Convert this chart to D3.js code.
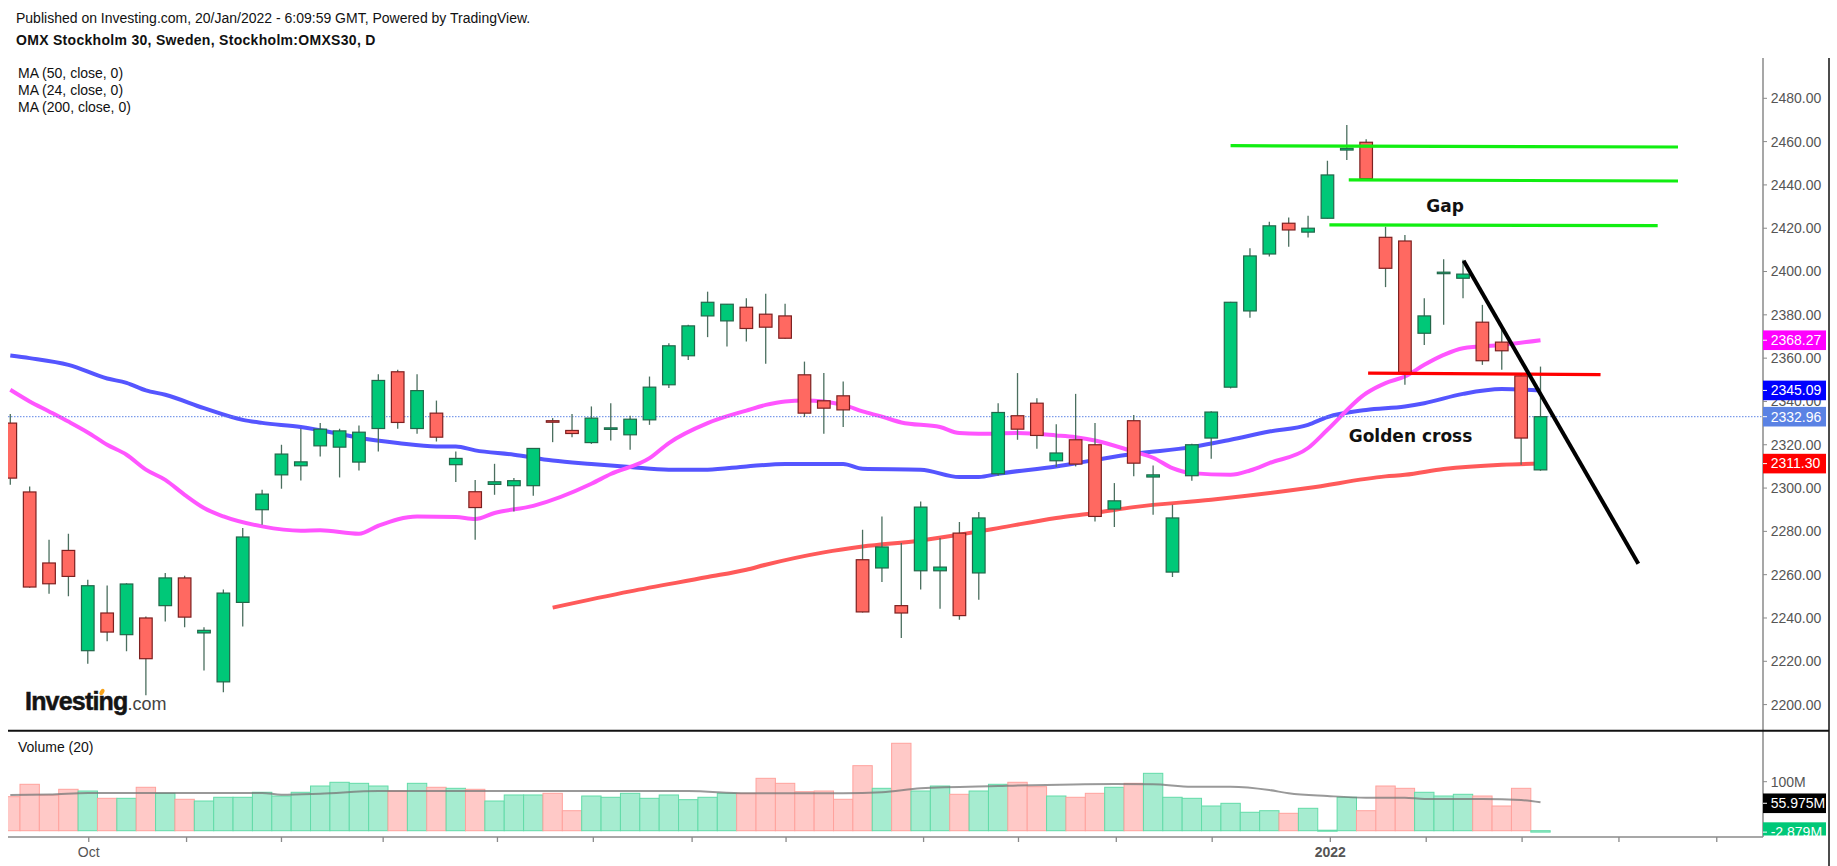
<!DOCTYPE html>
<html>
<head>
<meta charset="utf-8">
<script src="https://cdn.jsdelivr.net/npm/d3@7"></script>
<style>
body { margin: 0; background: #fff; }
svg { display: block; font-family: "Liberation Sans", Arial, sans-serif; }
</style>
</head>
<body>
<svg id="chart" width="1837" height="866"></svg>
<script>
// daily OHLC (index 0 = first visible session)
var opens  = [2330.0,2298.2,2265.4,2271.2,2224.9,2242.3,2232.3,2240.0,2245.7,2258.5,
              2233.1,2210.5,2247.2,2290.0,2306.1,2310.3,2319.5,2318.9,2312.0,2327.5,
              2353.7,2327.5,2334.6,2310.8,2298.3,2301.7,2301.1,2301.1,2331.1,2326.6,
              2321.0,2327.5,2324.6,2331.5,2347.7,2361.1,2379.5,2377.2,2383.5,2380.3,
              2379.5,2352.3,2340.3,2342.6,2266.9,2263.1,2245.7,2261.8,2261.8,2279.2,
              2260.8,2306.6,2333.4,2339.2,2312.6,2322.3,2320.0,2290.3,2331.1,2305.1,
              2261.2,2305.7,2323.1,2346.6,2381.8,2408.1,2422.3,2418.2,2424.6,2456.1,
              2459.7,2415.8,2414.1,2371.5,2399.5,2396.9,2376.6,2367.4,2351.8,2308.4];
var highs  = [2334.2,2300.7,2276.1,2278.9,2257.7,2255.0,2256.0,2240.7,2260.8,2259.5,
              2235.7,2253.1,2281.5,2299.2,2320.0,2327.4,2330.0,2327.4,2328.9,2352.6,
              2354.6,2352.6,2340.4,2316.9,2303.7,2311.2,2304.6,2318.5,2332.3,2334.2,
              2337.7,2339.2,2333.4,2351.5,2366.9,2375.4,2390.7,2385.0,2387.7,2389.7,
              2385.1,2358.4,2353.1,2349.2,2280.8,2286.9,2274.6,2293.8,2276.9,2284.3,
              2288.9,2339.2,2353.1,2341.5,2329.5,2343.5,2330.0,2302.3,2333.8,2310.4,
              2292.3,2320.5,2335.5,2386.0,2410.8,2423.0,2424.9,2425.8,2451.2,2467.7,
              2461.1,2420.7,2416.9,2387.7,2405.7,2405.4,2384.6,2373.4,2352.5,2356.1];
var lows   = [2301.5,2254.0,2251.2,2250.0,2218.9,2229.2,2224.6,2204.3,2238.4,2235.7,
              2215.8,2205.7,2236.1,2283.1,2299.7,2303.5,2314.6,2304.9,2308.1,2316.9,
              2327.4,2325.1,2321.5,2302.8,2276.1,2296.9,2289.2,2296.4,2321.2,2323.5,
              2320.4,2322.0,2317.7,2329.2,2346.2,2359.2,2369.7,2365.4,2367.7,2357.4,
              2369.0,2332.8,2325.1,2328.2,2242.5,2256.6,2230.8,2253.1,2244.3,2239.2,
              2248.4,2305.7,2322.3,2318.1,2309.7,2310.0,2284.6,2282.0,2305.4,2287.7,
              2258.9,2303.4,2313.5,2346.0,2378.7,2406.9,2411.5,2415.7,2424.5,2451.5,
              2442.7,2392.8,2347.7,2366.1,2375.4,2387.7,2356.9,2354.6,2310.8,2308.0];
var closes = [2304.6,2254.3,2255.8,2259.2,2254.9,2233.5,2255.7,2221.2,2258.5,2240.4,
              2234.3,2251.5,2277.4,2297.2,2315.7,2312.1,2327.2,2326.4,2325.8,2349.7,
              2330.3,2345.0,2323.5,2313.7,2291.0,2302.9,2303.4,2318.3,2330.5,2325.2,
              2332.3,2327.8,2331.8,2346.6,2365.7,2374.9,2385.8,2384.9,2373.7,2374.3,
              2369.2,2334.6,2336.9,2336.1,2242.8,2272.8,2242.3,2291.2,2263.5,2241.1,
              2286.2,2334.9,2327.2,2324.3,2316.2,2311.1,2286.9,2294.1,2311.5,2306.1,
              2286.2,2320.0,2335.1,2385.8,2407.2,2421.1,2419.2,2420.0,2444.6,2456.9,
              2442.9,2401.5,2353.4,2379.5,2399.7,2398.8,2358.8,2363.4,2323.1,2332.96];

// volume in millions
var volumes = [69.4,94.7,72.9,84.5,81.0,66.1,66.1,88.6,76.3,64.1,
               60.6,68.2,68.2,78.4,70.8,78.4,91.2,98.8,96.7,91.2,
               81.0,96.7,88.6,86.5,84.5,60.6,72.9,72.9,76.3,40.8,
               70.8,68.2,76.3,66.1,72.9,63.3,68.2,76.3,76.3,106.9,
               96.7,79.6,81.0,64.1,132.7,86.5,178.4,81.0,91.2,74.3,
               81.0,94.7,98.8,89.8,70.8,68.2,76.3,88.6,96.7,117.1,
               68.2,66.1,50.4,55.9,37.6,40.8,35.5,45.7,1.0,68.2,
               40.8,91.2,86.5,78.4,70.8,74.3,70.8,50.4,86.5,-2.879];

// moving averages, [session index, value]
var ma50 = [[0,2361.2],[1,2360],[3,2356.9],[5,2350.6],[6,2348.6],[7,2345.1],[8,2343.1],[10,2336.9],
            [12,2331.5],[13,2330.1],[15,2328.2],[17,2325],[18,2323.2],[20,2320.8],[22,2319.2],[23,2319.2],
            [24,2317.4],[26,2315.4],[28,2312.7],[30,2311.1],[32,2309.7],[34,2308.5],[36,2308.5],[38,2310],
            [40,2311.1],[43,2311.1],[44,2308.9],[47,2308.5],[49,2305.1],[50,2305.1],[51,2306.6],[54,2310],
            [56,2313],[58,2315.8],[61,2318.9],[63,2322.3],[65,2326.1],[67,2329.2],[68,2332.8],[70,2336.1],
            [72,2337.7],[73,2339.2],[75,2343.5],[77,2345.7],[79,2345.09]];
var ma24 = [[0,2345.4],[1,2340],[2,2335.4],[3,2330.7],[4,2325.7],[5,2320],[6,2315.4],[7,2308.5],
            [8,2303.8],[9,2296.9],[10,2290.8],[11,2286.9],[13,2282.3],[15,2280.3],[16,2280.5],[18,2278.9],
            [19,2282.6],[21,2286.9],[23,2286.6],[24,2285.7],[25,2288.5],[27,2291.8],[30,2302],[31,2306.5],
            [33,2313.8],[34,2320.8],[36,2330],[38,2335.8],[39,2338.4],[40,2340],[41,2340.4],[43,2338.4],
            [44,2335.4],[45,2333],[46,2330.3],[48,2328.2],[49,2325.4],[50,2325.1],[52,2325.4],[54,2324.3],
            [55,2323.5],[56,2322],[58,2316.8],[59,2314],[60,2309.2],[61,2306.9],[63,2306.1],[64,2308.1],
            [65,2311.5],[67,2318.5],[68,2326.9],[70,2343.8],[71,2348.5],[72,2351.5],[73,2356.9],[74,2361.5],
            [75,2364.6],[77,2366.1],[79,2368.27]];
var ma200 = [[28,2244.8],[32,2252.3],[36,2258.9],[38,2262.3],[39,2264.6],[42,2270.3],[44,2273],[47,2275.8],
             [49,2278.5],[51,2281.5],[54,2286.2],[56,2288.5],[58,2291.2],[62,2294.6],[67,2300],[71,2305.4],
             [72,2306.1],[74,2308.8],[77,2310.8],[79,2311.3]];
var volMa = [[0,73],[2,73.7],[4,77],[13,77],[14,73.5],[16,75.6],[19,81],[30,81],[35,81],[38,76.3],
             [43,76.3],[45,78.4],[47,86.5],[51,91.2],[57,95.3],[59,94.7],[61,89.8],[63,89.8],[65,83],
             [66,76.3],[68,70.8],[70,67.5],[72,67.5],[73,64.7],[76,64.7],[78,62.6],[79,57.9]];

// axis ticks
var priceTicks = [2200,2220,2240,2260,2280,2300,2320,2340,2360,2380,2400,2420,2440,2460,2480];
var timeTicks = [4.05,9.1,14,19.25,25.15,30.1,35.2,40.05,47.15,52.05,57.1,62.05,68.15,73.1,78.05,83.05,88.1];
var timeLabels = {4.05: 'Oct', 68.15: '2022'};

// drawn annotations: [index, price] end points
var greenLines = [[[63,2458.1],[86.1,2457.5]],
                  [[69.1,2442.3],[86.1,2441.8]],
                  [[68.1,2421.5],[85.05,2421.2]]];
var redLine = [[70.1,2353.1],[82.1,2352.4]];
var trendLine = [[75.03,2405.0],[84.05,2265.1]];
var notes = [{text: 'Gap', i: 73.1, p: 2427.3},
             {text: 'Golden cross', i: 69.1, p: 2321.5}];

var svg = d3.select('#chart');
var W = 1837, H = 866;
var plotLeft = 8, axisX = 1763, rightEdge = 1829;
var priceTop = 58, priceBottom = 730.7, volBottom = 837;

var x = d3.scaleLinear().domain([0, 79]).range([10.3, 1540.5]);
var y = d3.scaleLinear().domain([2200, 2480]).range([704.6, 98.3]);
var yv = d3.scaleLinear().domain([0, 100]).range([830.7, 781.7]);
var slot = x(1) - x(0);

var green = '#00c878', greenEdge = '#22674a';
var red = '#ff6961', redEdge = '#7d2020';
var wick = '#4b6f5f';

// clip areas for the two panes
function addClips() {
  var defs = svg.append('defs');
  defs.append('clipPath').attr('id', 'clip-price').append('rect')
      .attr('x', plotLeft).attr('y', priceTop)
      .attr('width', axisX - plotLeft).attr('height', priceBottom - priceTop);
  defs.append('clipPath').attr('id', 'clip-vol').append('rect')
      .attr('x', plotLeft).attr('y', priceBottom)
      .attr('width', axisX - plotLeft).attr('height', volBottom - priceBottom - 1);
}

function drawHeader() {
  svg.append('text').attr('x', 16).attr('y', 22.5)
     .attr('font-size', 14).attr('fill', '#111')
     .text('Published on Investing.com, 20/Jan/2022 - 6:09:59 GMT, Powered by TradingView.');
  svg.append('text').attr('x', 16).attr('y', 45)
     .attr('font-size', 14).attr('font-weight', 'bold').attr('fill', '#111')
     .attr('letter-spacing', 0.3)
     .text('OMX Stockholm 30, Sweden, Stockholm:OMXS30, D');
  var legend = ['MA (50, close, 0)', 'MA (24, close, 0)', 'MA (200, close, 0)'];
  legend.forEach(function(t, k) {
    svg.append('text').attr('x', 18).attr('y', 77.5 + k * 17)
       .attr('font-size', 14).attr('fill', '#111').text(t);
  });
  svg.append('text').attr('x', 18).attr('y', 752)
     .attr('font-size', 14).attr('fill', '#111').text('Volume (20)');
  // logo
  var logo = svg.append('text').attr('x', 25).attr('y', 709.5);
  logo.append('tspan').attr('font-size', 25).attr('font-weight', 'bold')
      .attr('letter-spacing', -0.8).attr('fill', '#141414')
      .attr('stroke', '#141414').attr('stroke-width', 0.5).text('Investing');
  logo.append('tspan').attr('font-size', 18).attr('fill', '#444').text('.com');
  // orange flame over the second "i"
  svg.append('ellipse').attr('cx', 102).attr('cy', 692).attr('rx', 2.1).attr('ry', 3.4)
     .attr('transform', 'rotate(30,102,692)').attr('fill', '#f7a21b');
}

function drawCandles() {
  var g = svg.append('g').attr('clip-path', 'url(#clip-price)');
  var idx = d3.range(opens.length);
  g.selectAll('line.wick').data(idx).enter().append('line')
   .attr('x1', function(i) { return x(i); }).attr('x2', function(i) { return x(i); })
   .attr('y1', function(i) { return y(highs[i]); }).attr('y2', function(i) { return y(lows[i]); })
   .attr('stroke', wick).attr('stroke-width', 1.3);
  g.selectAll('rect.body').data(idx).enter().append('rect')
   .attr('x', function(i) { return x(i) - 6.3; })
   .attr('width', 12.6)
   .attr('y', function(i) { return y(Math.max(opens[i], closes[i])); })
   .attr('height', function(i) {
     return Math.max(1.5, Math.abs(y(opens[i]) - y(closes[i])));
   })
   .attr('fill', function(i) { return closes[i] >= opens[i] ? green : red; })
   .attr('stroke', function(i) { return closes[i] >= opens[i] ? greenEdge : redEdge; })
   .attr('stroke-width', 1.2);
}

function drawAverages() {
  var g = svg.append('g').attr('clip-path', 'url(#clip-price)');
  var line = d3.line().x(function(d) { return x(d[0]); }).y(function(d) { return y(d[1]); })
               .curve(d3.curveMonotoneX);
  var series = [[ma200, '#ff5a5a'], [ma50, '#5555ff'], [ma24, '#ff55ff']];
  series.forEach(function(s) {
    g.append('path').attr('d', line(s[0])).attr('fill', 'none')
     .attr('stroke', s[1]).attr('stroke-width', 4).attr('stroke-linejoin', 'round');
  });
  // last price dotted line
  svg.append('line').attr('x1', plotLeft).attr('x2', axisX)
     .attr('y1', y(closes[79])).attr('y2', y(closes[79]))
     .attr('stroke', '#5d84e6').attr('stroke-width', 1).attr('stroke-dasharray', '1.5,1.5');
}

function drawVolume() {
  var g = svg.append('g').attr('clip-path', 'url(#clip-vol)');
  var idx = d3.range(volumes.length);
  g.selectAll('rect.vol').data(idx).enter().append('rect')
   .attr('x', function(i) { return x(i) - slot / 2; })
   .attr('width', slot)
   .attr('y', function(i) { return Math.min(yv(volumes[i]), yv(0)); })
   .attr('height', function(i) { return Math.max(1, Math.abs(yv(volumes[i]) - yv(0))); })
   .attr('fill', function(i) { return closes[i] >= opens[i] ? '#a6ecd0' : '#ffc9c7'; })
   .attr('stroke', function(i) { return closes[i] >= opens[i] ? '#62dba8' : '#ffa29d'; })
   .attr('stroke-width', 1);
  var line = d3.line().x(function(d) { return x(d[0]); }).y(function(d) { return yv(d[1]); })
               .curve(d3.curveMonotoneX);
  g.append('path').attr('d', line(volMa)).attr('fill', 'none')
   .attr('stroke', '#777').attr('stroke-opacity', 0.75).attr('stroke-width', 2);
}

function drawAnnotations() {
  var g = svg.append('g');
  function seg(pts, color, w) {
    g.append('line')
     .attr('x1', x(pts[0][0])).attr('y1', y(pts[0][1]))
     .attr('x2', x(pts[1][0])).attr('y2', y(pts[1][1]))
     .attr('stroke', color).attr('stroke-width', w);
  }
  greenLines.forEach(function(p) { seg(p, '#11ee11', 3.2); });
  seg(redLine, '#ff0000', 3.2);
  seg(trendLine, '#000', 4);
  notes.forEach(function(n) {
    g.append('text').attr('x', x(n.i)).attr('y', y(n.p))
     .attr('font-family', '"DejaVu Sans", Verdana, sans-serif')
     .attr('font-size', 17).attr('font-weight', 'bold').attr('fill', '#111')
     .text(n.text);
  });
}

function drawAxes() {
  var grey = '#8a8a8a';
  // frame lines
  svg.append('line').attr('x1', axisX).attr('x2', axisX).attr('y1', priceTop).attr('y2', volBottom)
     .attr('stroke', grey).attr('stroke-width', 1.5);
  svg.append('line').attr('x1', rightEdge).attr('x2', rightEdge).attr('y1', priceTop).attr('y2', H)
     .attr('stroke', '#111').attr('stroke-width', 1.5);
  svg.append('line').attr('x1', plotLeft).attr('x2', rightEdge).attr('y1', priceBottom).attr('y2', priceBottom)
     .attr('stroke', '#111').attr('stroke-width', 2);
  svg.append('line').attr('x1', plotLeft).attr('x2', axisX).attr('y1', volBottom).attr('y2', volBottom)
     .attr('stroke', grey).attr('stroke-width', 1.5);

  // price axis
  var ax = svg.append('g');
  priceTicks.forEach(function(p) {
    ax.append('line').attr('x1', axisX).attr('x2', axisX + 4).attr('y1', y(p)).attr('y2', y(p))
      .attr('stroke', grey);
    ax.append('text').attr('x', axisX + 7.7).attr('y', y(p)).attr('dy', '0.35em')
      .attr('font-size', 14).attr('fill', '#555').text(p.toFixed(2));
  });
  // volume axis
  ax.append('line').attr('x1', axisX).attr('x2', axisX + 4).attr('y1', yv(100)).attr('y2', yv(100))
    .attr('stroke', grey);
  ax.append('text').attr('x', axisX + 7.7).attr('y', yv(100)).attr('dy', '0.35em')
    .attr('font-size', 14).attr('fill', '#555').text('100M');

  // time axis
  timeTicks.forEach(function(t) {
    ax.append('line').attr('x1', x(t)).attr('x2', x(t)).attr('y1', volBottom).attr('y2', volBottom + 5)
      .attr('stroke', grey).attr('stroke-width', 1.3);
    if (timeLabels[t]) {
      ax.append('text').attr('x', x(t)).attr('y', 857).attr('text-anchor', 'middle')
        .attr('font-size', 14).attr('fill', '#555')
        .attr('font-weight', timeLabels[t] == '2022' ? 'bold' : 'normal')
        .text(timeLabels[t]);
    }
  });
}

// value boxes on the right axis
function drawValueBoxes() {
  var boxes = [
    {y: y(ma24[ma24.length - 1][1]), text: '2368.27', color: '#ff00ff'},
    {y: y(ma50[ma50.length - 1][1]), text: '2345.09', color: '#0000ff'},
    {y: y(closes[79]), text: '2332.96', color: '#5a82e4'},
    {y: y(ma200[ma200.length - 1][1]), text: '2311.30', color: '#ff0000'},
    {y: yv(55.975), text: '55.975M', color: '#000'},
    {y: yv(volumes[79]), text: '-2.879M', color: '#00c878'}
  ];
  var g = svg.append('g');
  boxes.forEach(function(b) {
    var top = b.y - 9.8, bottom = Math.min(b.y + 9.8, volBottom - 1.5);
    g.append('rect').attr('x', axisX).attr('y', top)
     .attr('width', 63).attr('height', bottom - top).attr('fill', b.color);
    g.append('line').attr('x1', axisX).attr('x2', axisX + 4).attr('y1', b.y).attr('y2', b.y)
     .attr('stroke', '#fff');
    g.append('text').attr('x', axisX + 7.7).attr('y', b.y).attr('dy', '0.35em')
     .attr('font-size', 14).attr('fill', '#fff').text(b.text);
  });
}

addClips();
drawHeader();
drawVolume();
drawAverages();
drawCandles();
drawAnnotations();
drawAxes();
drawValueBoxes();
</script>
</body>
</html>
